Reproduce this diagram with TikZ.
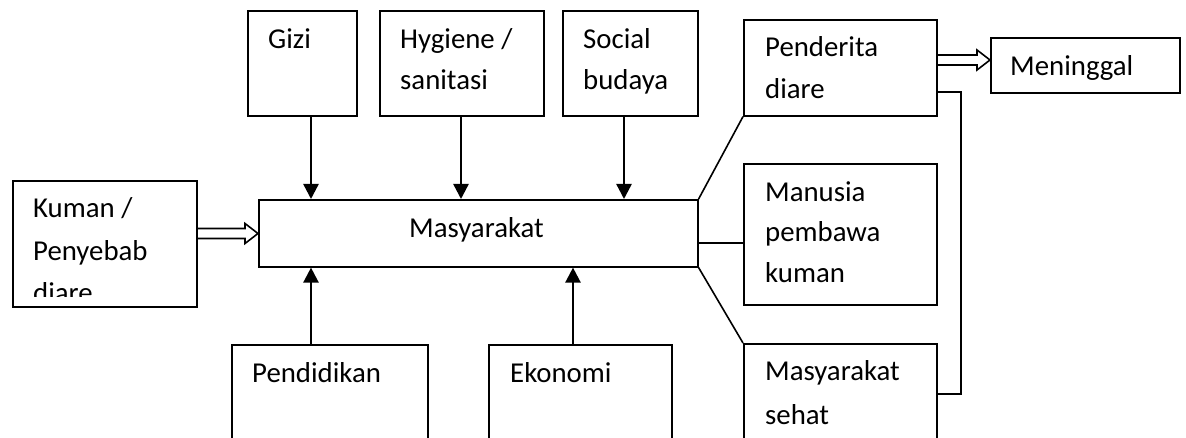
\documentclass[tikz,border=0pt]{standalone}
\usepackage{fontspec}
\setmainfont{Carlito}
\usetikzlibrary{arrows.meta,calc}
\newcommand\bx[5]{\node[box,minimum width=#4pt,minimum height=#5pt] (#1) at (#2,#3) {};}
\newcommand\hollow[2]{\draw[ln,line join=miter] ($(#1)+(0,-5)$) -- ($(#2)+(-13,-5)$) -- ($(#2)+(-13,-10)$) -- (#2) -- ($(#2)+(-13,10)$) -- ($(#2)+(-13,5)$) -- ($(#1)+(0,5)$);}
\begin{document}
\begin{tikzpicture}[x=1pt,y=-1pt,
  box/.style={draw,line width=1.6pt,inner sep=0pt,anchor=north west},
  lbl/.style={anchor=base west,inner sep=0pt,font=\fontsize{28.8}{34}\selectfont},
  arr/.style={line width=2.4pt,-{Triangle[length=15pt,width=15pt]}},
  ln/.style={line width=1.6pt}]
\useasboundingbox (0,0) rectangle (1186,438);
\clip (0,0) rectangle (1186,438);
\bx{gizi}{247}{10}{109}{105}
\bx{hyg}{379}{10}{164}{105}
\bx{soc}{562}{10}{135}{105}
\bx{masy}{258}{199}{439}{67}
\bx{kuman}{12}{180}{184}{126}
\bx{pend}{231}{344}{196}{120}
\bx{eko}{488}{344}{183}{120}
\bx{pen}{743}{19}{193}{96}
\bx{men}{990}{37}{189}{55}
\bx{man}{743}{163}{193}{141}
\bx{sehat}{743}{343}{193}{120}
\node[lbl] (tgizi) at (268,49) {Gizi};
\node[lbl] (thyg1) at (400,49) {Hygiene /};
\node[lbl] (thyg2) at (400,90) {sanitasi};
\node[lbl] (tsoc1) at (583,49) {Social};
\node[lbl] (tsoc2) at (583,90) {budaya};
\node[lbl] (tmasy) at (409,238) {Masyarakat};
\node[lbl] (tk1) at (33,218) {Kuman /};
\node[lbl] (tk2) at (33,260.5) {Penyebab};
\begin{scope}
\clip (12,180) rectangle (196,297);
\node[lbl] (tk3) at (33,303) {diare};
\end{scope}
\node[lbl] (tpend) at (252,382.5) {Pendidikan};
\node[lbl] (teko) at (510,382.5) {Ekonomi};
\node[lbl] (tpen1) at (765,56.5) {Penderita};
\node[lbl] (tpen2) at (765,99) {diare};
\node[lbl] (tmen) at (1010,76) {Meninggal};
\node[lbl] (tman1) at (765,201.5) {Manusia};
\node[lbl] (tman2) at (765,242) {pembawa};
\node[lbl] (tman3) at (765,283) {kuman};
\node[lbl] (tseh1) at (765,380.5) {Masyarakat};
\node[lbl] (tseh2) at (765,424) {sehat};
% vertical arrows
\coordinate (c1) at (311,0);
\coordinate (c2) at (461,0);
\coordinate (c3) at (624,0);
\coordinate (c4) at (573,0);
\draw[arr] (c1 |- gizi.south) -- (c1 |- masy.north);
\draw[arr] (c2 |- hyg.south) -- (c2 |- masy.north);
\draw[arr] (c3 |- soc.south) -- (c3 |- masy.north);
\draw[arr] (c1 |- pend.north) -- (c1 |- masy.south);
\draw[arr] (c4 |- eko.north) -- (c4 |- masy.south);
% hollow arrows
\coordinate (ya) at (0,233.5);
\coordinate (k1) at (kuman.east |- ya);
\coordinate (k2) at (masy.west |- ya);
\hollow{k1}{k2}
\coordinate (yb) at (0,60);
\coordinate (p1) at (pen.east |- yb);
\coordinate (p2) at (men.west |- yb);
\hollow{p1}{p2}
% right-side lines
\coordinate (ym) at (0,243);
\draw[ln] (masy.north east) -- (pen.south west);
\draw[ln] (masy.east |- ym) -- (man.west |- ym);
\draw[ln] (masy.south east) -- (sehat.north west);
\coordinate (r1) at (961,92);
\coordinate (r2) at (961,394);
\draw[ln] (pen.east |- r1) -- (r1) -- (r2) -- (sehat.east |- r2);
\end{tikzpicture}
\end{document}
